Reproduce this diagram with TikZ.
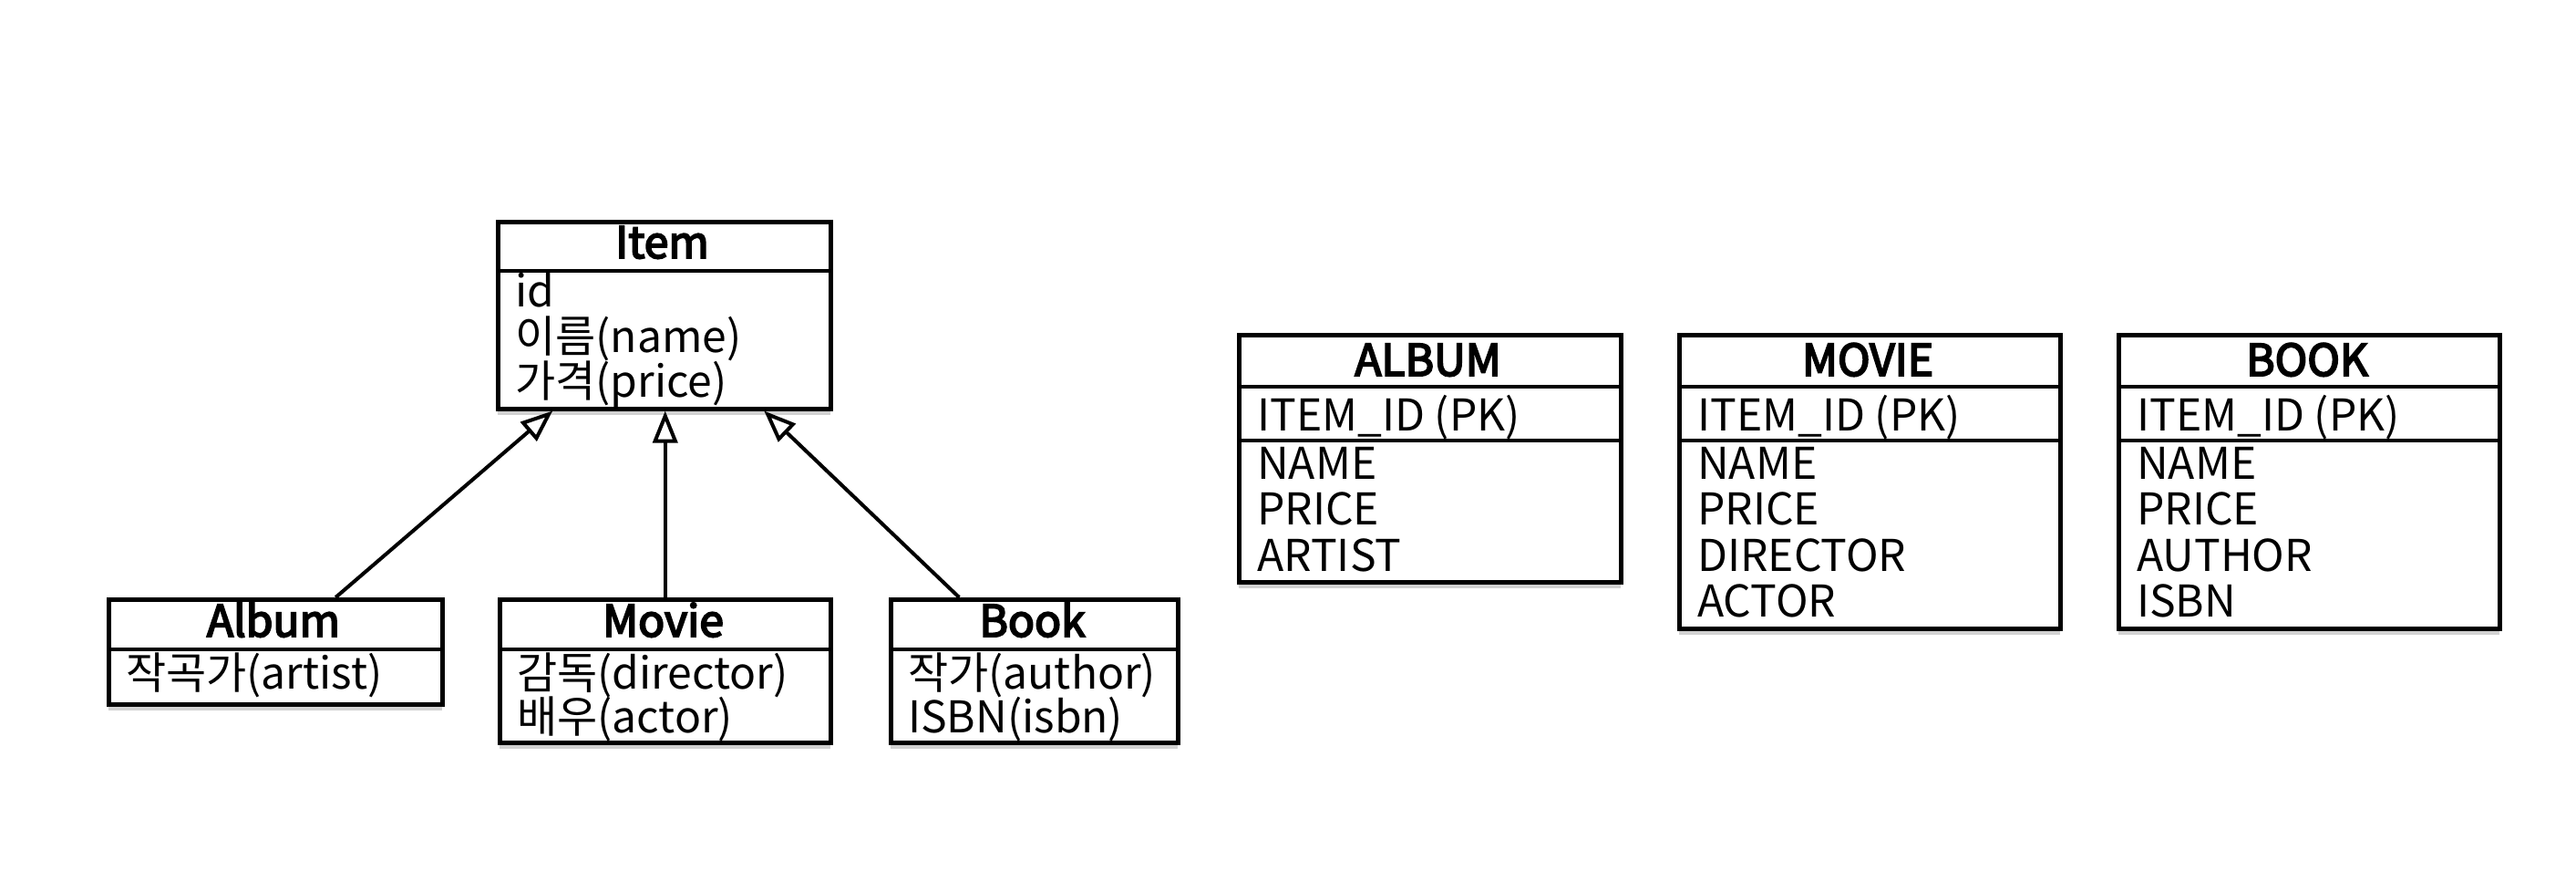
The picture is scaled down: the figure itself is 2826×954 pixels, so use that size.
\documentclass[tikz,border=0pt]{standalone}
\usepackage{fontspec}
\setmainfont{Noto Sans CJK KR}
\newfontfamily\hdfont[FakeBold=4]{Noto Sans CJK KR}
\usetikzlibrary{arrows.meta,shadows}
\tikzset{
  box/.style={draw, line width=4.5pt, fill=white, rectangle, inner sep=0pt,
    anchor=north west,
    drop shadow={shadow xshift=0pt, shadow yshift=-7pt, opacity=0.3, fill=black!60}},
  sep/.style={line width=4.5pt},
  hd/.style={anchor=base, inner sep=0pt, font=\fontsize{48}{50}\hdfont},
  fld/.style={anchor=base west, inner sep=0pt, font=\fontsize{48}{50}\selectfont},
  inh/.style={line width=4pt, -{Triangle[open, length=35pt, width=27pt]}}
}
\begin{document}
\begin{tikzpicture}[x=1pt, y=-1pt]
\useasboundingbox (0,0) rectangle (2826,954);
% ---------- UML classes ----------
\node[box, minimum width=365pt, minimum height=205pt] (item) at (544,241) {};
\draw[sep] (item.west |- 0,297) -- (item.east |- 0,297);
\node[hd] (itemh) at (726.5,283) {Item};
\node[fld] (item1) at (565,336) {id};
\node[fld] (item2) at (565,386) {이름(name)};
\node[fld] (item3) at (565,435) {가격(price)};

\node[box, minimum width=366pt, minimum height=115pt] (album) at (117,655) {};
\draw[sep] (album.west |- 0,712) -- (album.east |- 0,712);
\node[hd] (albumh) at (300,698) {Album};
\node[fld] (album1) at (138,755) {작곡가(artist)};

\node[box, minimum width=363pt, minimum height=157pt] (movie) at (546,655) {};
\draw[sep] (movie.west |- 0,712) -- (movie.east |- 0,712);
\node[hd] (movieh) at (727.5,698) {Movie};
\node[fld] (movie1) at (567,755) {감독(director)};
\node[fld] (movie2) at (567,803) {배우(actor)};

\node[box, minimum width=315pt, minimum height=157pt] (book) at (975,655) {};
\draw[sep] (book.west |- 0,712) -- (book.east |- 0,712);
\node[hd] (bookh) at (1132.5,698) {Book};
\node[fld] (book1) at (996,755) {작가(author)};
\node[fld] (book2) at (996,803) {ISBN(isbn)};

% ---------- inheritance ----------
\draw[inh] ([xshift=66pt]album.north) -- ([xshift=-122.5pt]item.south);
\draw[inh] (movie.north) -- (movie.north |- item.south);
\draw[inh] ([xshift=-82.5pt]book.north) -- ([xshift=109.5pt]item.south);

% ---------- tables ----------
\node[box, minimum width=419pt, minimum height=271pt] (talbum) at (1357,365) {};
\draw[sep] (talbum.west |- 0,424) -- (talbum.east |- 0,424);
\draw[sep] (talbum.west |- 0,483) -- (talbum.east |- 0,483);
\node[hd] (talbumh) at (1566.5,412) {ALBUM};
\node[fld] (talbum0) at (1379,472) {ITEM\_ID (PK)};
\node[fld] (talbum1) at (1379,525) {NAME};
\node[fld] (talbum2) at (1379,575) {PRICE};
\node[fld] (talbum3) at (1379,626) {ARTIST};

\node[box, minimum width=418pt, minimum height=322pt] (tmovie) at (1840,365) {};
\draw[sep] (tmovie.west |- 0,424) -- (tmovie.east |- 0,424);
\draw[sep] (tmovie.west |- 0,483) -- (tmovie.east |- 0,483);
\node[hd] (tmovieh) at (2049,412) {MOVIE};
\node[fld] (tmovie0) at (1862,472) {ITEM\_ID (PK)};
\node[fld] (tmovie1) at (1862,525) {NAME};
\node[fld] (tmovie2) at (1862,575) {PRICE};
\node[fld] (tmovie3) at (1862,626) {DIRECTOR};
\node[fld] (tmovie4) at (1862,676) {ACTOR};

\node[box, minimum width=418pt, minimum height=322pt] (tbook) at (2322,365) {};
\draw[sep] (tbook.west |- 0,424) -- (tbook.east |- 0,424);
\draw[sep] (tbook.west |- 0,483) -- (tbook.east |- 0,483);
\node[hd] (tbookh) at (2531,412) {BOOK};
\node[fld] (tbook0) at (2344,472) {ITEM\_ID (PK)};
\node[fld] (tbook1) at (2344,525) {NAME};
\node[fld] (tbook2) at (2344,575) {PRICE};
\node[fld] (tbook3) at (2344,626) {AUTHOR};
\node[fld] (tbook4) at (2344,676) {ISBN};
\end{tikzpicture}
\end{document}
